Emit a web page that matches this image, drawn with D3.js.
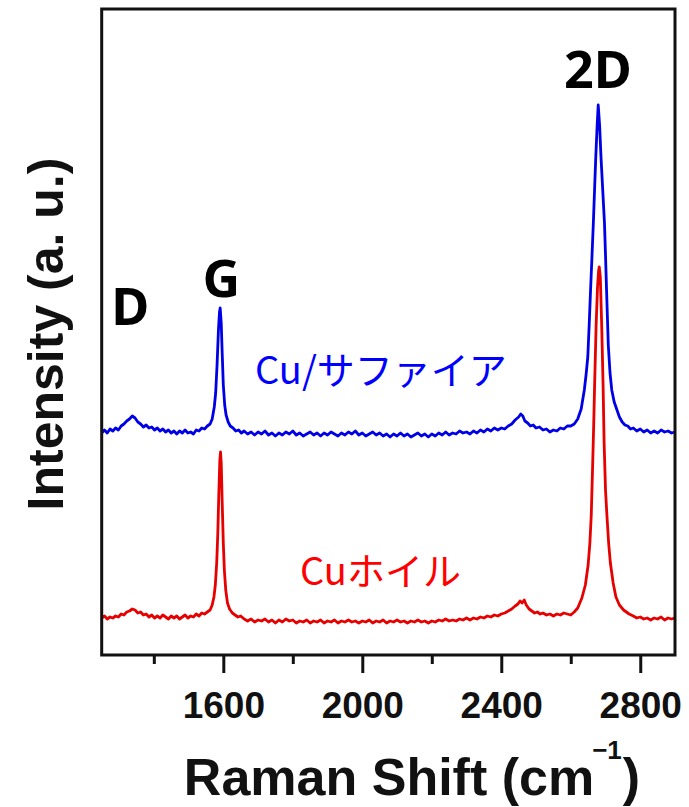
<!DOCTYPE html>
<html>
<head>
<meta charset="utf-8">
<script src="https://cdn.jsdelivr.net/npm/d3@7"></script>
<style>
  body { margin: 0; background: #fff; }
  svg { display: block; }
</style>
</head>
<body>
<svg></svg>
<script>
let width = 689,
  height = 807;

// Raman spectra [shift (cm-1), intensity (a.u., offset)]
const blueSpectrum = [
  [1250,222],[1258,225],[1266,222],[1274,226],[1282,224],[1290,227],[1298,225],[1306,229],[1314,231],[1322,234],
  [1330,236],[1338,239],[1346,237],[1354,233],[1362,231],[1370,228],[1378,230],[1386,227],[1394,228],[1402,225],
  [1410,227],[1418,224],[1426,226],[1434,223],[1442,225],[1450,222],[1458,224],[1466,221],[1474,224],[1482,222],
  [1490,225],[1498,222],[1506,223],[1514,221],[1522,225],[1530,224],[1538,227],[1546,226],[1554,229],[1562,231],
  [1568,236],[1574,248],[1578,262],[1582,290],[1586,325],[1589,343],[1591,347],[1594,332],[1597,300],[1600,270],
  [1604,250],[1608,240],[1614,233],[1620,229],[1628,227],[1636,224],[1644,225],[1652,222],
  [1660,224],[1670,221],[1680,223],[1690,220],[1700,223],[1710,221],[1720,224],[1730,220],[1740,222],[1750,219],
  [1760,222],[1770,220],[1780,223],[1790,221],[1800,224],[1810,220],[1820,222],[1830,219],[1840,221],[1850,223],
  [1860,220],[1870,222],[1880,219],[1890,222],[1900,220],[1910,223],[1920,221],[1930,219],[1940,222],[1950,220],
  [1960,223],[1970,221],[1980,224],[1990,220],[2000,222],[2010,219],[2020,221],[2030,223],[2040,220],[2050,222],
  [2060,219],[2070,221],[2080,218],[2090,221],[2100,219],[2110,222],[2120,219],[2130,221],[2140,218],[2150,220],
  [2160,222],[2170,219],[2180,221],[2190,218],[2200,221],[2210,219],[2220,222],[2230,220],[2240,223],[2250,220],
  [2260,222],[2270,221],[2280,224],[2290,222],[2300,223],[2310,221],[2320,224],[2330,222],[2340,225],[2350,223],
  [2360,226],[2370,224],[2380,227],[2390,225],[2400,227],[2410,226],[2420,229],[2430,231],[2440,235],[2450,238],
  [2456,241],[2462,239],[2468,234],[2476,232],[2484,229],[2492,230],[2500,227],[2510,228],[2520,225],[2530,226],
  [2540,223],[2550,225],[2560,224],[2570,227],[2580,226],[2590,229],[2600,229],[2610,231],[2620,236],[2630,246],
  [2639,265],[2644,280],[2649,298],[2653,330],[2657,365],[2661,398],[2665,432],[2669,470],[2672,498],[2676,530],
  [2679,550],[2683,530],[2687,498],[2692,465],[2697,432],[2700,400],[2703,365],[2708,310],[2713,282],[2718,265],
  [2725,253],[2733,245],[2740,238],[2748,233],[2756,230],[2764,229],[2772,226],[2780,227],[2790,224],[2800,226],
  [2810,223],[2820,225],[2830,222],[2840,224],[2850,222],[2860,225],[2870,223],[2880,224],[2890,222],[2900,223]
];

const redSpectrum = [
  [1250,37],[1258,39],[1266,36],[1274,38],[1282,37],[1290,39],[1298,38],[1306,41],[1314,40],[1322,43],
  [1330,44],[1338,46],[1346,45],[1354,42],[1362,43],[1370,40],[1378,41],[1386,38],[1394,40],[1402,37],
  [1410,39],[1418,37],[1426,40],[1434,38],[1442,36],[1450,39],[1458,37],[1466,39],[1474,36],[1482,38],
  [1490,40],[1498,37],[1506,39],[1514,38],[1522,41],[1530,39],[1538,42],[1546,41],[1554,43],[1562,45],
  [1568,50],[1573,58],[1577,70],[1581,92],[1584,120],[1587,160],[1590,195],[1592,203],[1594,192],[1597,150],
  [1600,112],[1603,85],[1607,65],[1612,52],[1618,46],[1626,42],[1634,40],[1642,38],[1650,39],
  [1660,36],[1670,34],[1680,36],[1690,33],[1700,35],[1710,34],[1720,36],[1730,33],[1740,35],[1750,32],
  [1760,35],[1770,33],[1780,36],[1790,34],[1800,35],[1810,32],[1820,34],[1830,33],[1840,35],[1850,32],
  [1860,34],[1870,33],[1880,35],[1890,32],[1900,34],[1910,33],[1920,35],[1930,32],[1940,34],[1950,33],
  [1960,35],[1970,33],[1980,34],[1990,32],[2000,34],[2010,33],[2020,35],[2030,32],[2040,34],[2050,33],
  [2060,35],[2070,32],[2080,34],[2090,33],[2100,35],[2110,33],[2120,34],[2130,32],[2140,34],[2150,33],
  [2160,35],[2170,33],[2180,34],[2190,32],[2200,34],[2210,33],[2220,35],[2230,34],[2240,36],[2250,34],
  [2260,35],[2270,34],[2280,36],[2290,35],[2300,37],[2310,35],[2320,37],[2330,36],[2340,38],[2350,37],
  [2360,39],[2370,38],[2380,40],[2390,39],[2400,41],[2410,42],[2420,44],[2430,46],[2440,49],[2448,51],
  [2454,54],[2460,52],[2466,55],[2472,50],[2480,46],[2488,44],[2496,42],[2504,43],[2512,41],[2520,42],
  [2530,40],[2540,41],[2550,39],[2560,41],[2570,40],[2580,42],[2590,41],[2600,40],[2610,43],[2620,47],
  [2632,57],[2642,70],[2650,90],[2655,112],[2659,140],[2663,190],[2666,230],[2669,275],[2673,330],[2677,368],
  [2680,384],[2682,388],[2685,378],[2689,330],[2693,270],[2696,212],[2700,165],[2704,140],[2709,112],[2714,92],
  [2722,72],[2730,58],[2740,50],[2752,45],[2768,41],[2780,39],[2790,37],[2800,38],[2810,36],[2820,37],
  [2830,35],[2840,37],[2850,36],[2860,38],[2870,35],[2880,37],[2890,36],[2900,37]
];

const majorTicks = [1600, 2000, 2400, 2800];
const minorTicks = [1400, 1800, 2200, 2600];
const peakNames = ["D", "G", "2D"];
const peakShifts = [1332, 1594, 2678];
const peakHeights = [330, 358, 567];

let svg = d3.select("svg")
  .attr("width", width)
  .attr("height", height)
  .attr("viewBox", "0 0 " + width + " " + height);

let x = d3.scaleLinear().domain([1250, 2900]).range([101.7, 675]);
let y = d3.scaleLinear().domain([0, 646]).range([655, 9]);

let line = d3.line()
  .x((d) => x(d[0]))
  .y((d) => y(d[1]));

// spectra
svg.append("path")
  .datum(redSpectrum)
  .attr("d", line)
  .attr("fill", "none")
  .attr("stroke", "#e60000")
  .attr("stroke-width", 2.8)
  .attr("stroke-linejoin", "round");

svg.append("path")
  .datum(blueSpectrum)
  .attr("d", line)
  .attr("fill", "none")
  .attr("stroke", "#0000e6")
  .attr("stroke-width", 2.8)
  .attr("stroke-linejoin", "round");

// frame
svg.append("rect")
  .attr("x", x.range()[0])
  .attr("y", y.range()[1])
  .attr("width", x.range()[1] - x.range()[0])
  .attr("height", y.range()[0] - y.range()[1])
  .attr("fill", "none")
  .attr("stroke", "#111")
  .attr("stroke-width", 3);

// bottom axis
let xAxis = svg.append("g")
  .attr("transform", "translate(0," + y.range()[0] + ")")
  .call(d3.axisBottom(x).tickValues(majorTicks).tickSize(18).tickPadding(19).tickFormat(d3.format("d")));

svg.append("g")
  .attr("transform", "translate(0," + y.range()[0] + ")")
  .call(d3.axisBottom(x).tickValues(minorTicks).tickSize(9).tickFormat(""))
  .call((g) => g.select(".domain").remove())
  .selectAll("line")
  .attr("stroke", "#111")
  .attr("stroke-width", 3);

xAxis.select(".domain").remove();
xAxis.selectAll("line").attr("stroke", "#111").attr("stroke-width", 3);
xAxis.selectAll("text")
  .attr("fill", "#111")
  .style("font-family", "'Liberation Sans', Arial, sans-serif")
  .style("font-weight", "bold")
  .style("font-size", "37px");

// axis titles
let xTitle = svg.append("text")
  .attr("x", 412)
  .attr("y", 795)
  .attr("text-anchor", "middle")
  .attr("fill", "#111")
  .style("font-family", "'Liberation Sans', Arial, sans-serif")
  .style("font-weight", "bold")
  .style("font-size", "52px");
xTitle.append("tspan").text("Raman Shift (cm");
xTitle.append("tspan").attr("dy", -36).attr("dx", -2).style("font-size", "26px").text("\u22121");
xTitle.append("tspan").attr("dy", 36).attr("dx", 1).text(")");

svg.append("text")
  .attr("transform", "translate(63,334) rotate(-90)")
  .attr("text-anchor", "middle")
  .attr("fill", "#111")
  .style("font-family", "'Liberation Sans', Arial, sans-serif")
  .style("font-weight", "bold")
  .style("font-size", "50px")
  .text("Intensity (a. u.)");

// peak labels
svg.selectAll(".peak")
  .data(peakNames)
  .enter()
  .append("text")
  .attr("class", "peak")
  .attr("x", (d, i) => x(peakShifts[i]))
  .attr("y", (d, i) => y(peakHeights[i]))
  .attr("text-anchor", "middle")
  .attr("fill", "#000")
  .style("font-family", "'Noto Sans', sans-serif")
  .style("font-weight", "bold")
  .style("font-size", "52px")
  .text((d) => d);

// sample labels
svg.append("text")
  .attr("x", 255)
  .attr("y", 384)
  .attr("fill", "#0000ff")
  .style("font-family", "'Noto Sans CJK JP', sans-serif")
  .style("font-size", "38px")
  .text("Cu/サファイア");

svg.append("text")
  .attr("x", 300)
  .attr("y", 585)
  .attr("fill", "#ff0000")
  .style("font-family", "'Noto Sans CJK JP', sans-serif")
  .style("font-size", "38px")
  .text("Cuホイル");
</script>
</body>
</html>
